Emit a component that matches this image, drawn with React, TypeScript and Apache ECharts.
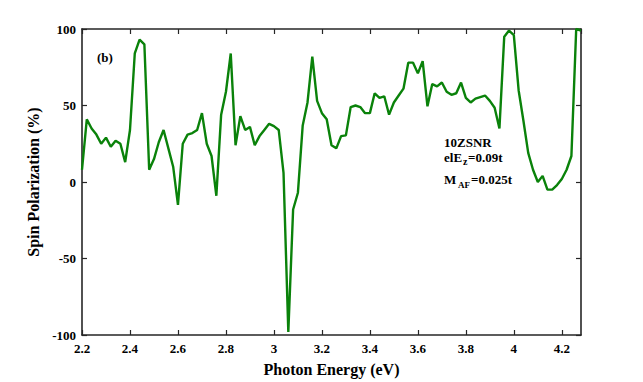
import React, { useEffect, useRef } from "react";
import * as echarts from "echarts";

const energies = [
  2.2, 2.22, 2.24, 2.26, 2.28, 2.3, 2.32, 2.34, 2.36, 2.38,
  2.4, 2.42, 2.44, 2.46, 2.48, 2.5, 2.52, 2.54, 2.56, 2.58,
  2.6, 2.62, 2.64, 2.66, 2.68, 2.7, 2.72, 2.74, 2.76, 2.78,
  2.8, 2.82, 2.84, 2.86, 2.88, 2.9, 2.92, 2.94, 2.96, 2.98,
  3.0, 3.02, 3.04, 3.06, 3.08, 3.1, 3.12, 3.14, 3.16, 3.18,
  3.2, 3.22, 3.24, 3.26, 3.28, 3.3, 3.32, 3.34, 3.36, 3.38,
  3.4, 3.42, 3.44, 3.46, 3.48, 3.5, 3.52, 3.54, 3.56, 3.58,
  3.6, 3.62, 3.64, 3.66, 3.68, 3.7, 3.72, 3.74, 3.76, 3.78,
  3.8, 3.82, 3.84, 3.86, 3.88, 3.9, 3.92, 3.94, 3.96, 3.98,
  4.0, 4.02, 4.04, 4.06, 4.08, 4.1, 4.12, 4.14, 4.16, 4.18,
  4.2, 4.22, 4.24, 4.26, 4.28,
];

const polarization = [
  8, 41, 35, 31, 25, 29, 23, 27, 25, 13,
  34, 84, 93, 90, 8, 15, 26, 34, 22, 10,
  -15, 25, 31, 32, 34, 45, 25, 17, -9, 44,
  59, 84, 24, 43, 34, 36, 24, 30, 34, 38,
  36.5, 34, 6, -98, -18, -7, 37, 52, 82, 53,
  45, 41, 24, 22, 30, 30.5, 49, 50, 49, 45,
  45, 58, 55, 56, 44, 52, 56.5, 61, 78, 78,
  71, 79, 49.5, 64, 62.5, 65, 59, 57, 58, 65,
  55, 52, 54.5, 55.5, 56.5, 53, 48.5, 35, 95, 99,
  96, 60, 40, 19, 8, 0, 4, -5, -5, -2,
  2, 8, 17, 100, 99,
];

const xTitle = "Photon Energy (eV)";
const yTitle = "Spin Polarization (%)";

const FONT = "'Liberation Serif', 'DejaVu Serif', serif";
const AXIS_COLOR = "#262626";

export default function App() {
  const ref = useRef<HTMLDivElement>(null);

  useEffect(() => {
    if (!ref.current) return;
    const chart = echarts.init(ref.current, undefined, { renderer: "svg" });
    const data = energies.map((e, i) => [e, polarization[i]]);
    const axisLine = { show: true, onZero: false, lineStyle: { color: AXIS_COLOR, width: 1.6 } };
    const axisTick = { show: true, inside: true, length: 5, lineStyle: { color: AXIS_COLOR, width: 1.2 } };
    const labelStyle = { fontFamily: FONT, fontWeight: "bold" as const, fontSize: 13, color: "#000" };
    const txt = (left: number, top: number, text: string, size = 13) => ({
      type: "text",
      left,
      top,
      style: { text, fontFamily: FONT, fontWeight: "bold", fontSize: size, fill: "#000" },
    });

    chart.setOption({
      animation: false,
      backgroundColor: "#fff",
      grid: { left: 82, right: 62, top: 29, bottom: 46, containLabel: false },
      xAxis: [
        {
          type: "value",
          min: 2.2,
          max: 4.28,
          interval: 0.2,
          position: "bottom",
          axisLine,
          axisTick,
          splitLine: { show: false },
          axisLabel: {
            ...labelStyle,
            margin: 7,
            showMaxLabel: false,
            formatter: (v: number) => String(Math.round(v * 10) / 10),
          },
          name: xTitle,
          nameLocation: "middle",
          nameGap: 26,
          nameTextStyle: { fontFamily: FONT, fontWeight: "bold", fontSize: 16, color: "#000" },
        },
        {
          type: "value",
          min: 2.2,
          max: 4.28,
          interval: 0.2,
          position: "top",
          axisLine,
          axisTick,
          splitLine: { show: false },
          axisLabel: { show: false },
        },
      ],
      yAxis: [
        {
          type: "value",
          min: -100,
          max: 100,
          interval: 50,
          position: "left",
          axisLine,
          axisTick,
          splitLine: { show: false },
          axisLabel: { ...labelStyle, margin: 6 },
          name: yTitle,
          nameLocation: "middle",
          nameGap: 32,
          nameRotate: 90,
          nameTextStyle: { fontFamily: FONT, fontWeight: "bold", fontSize: 16, color: "#000" },
        },
        {
          type: "value",
          min: -100,
          max: 100,
          interval: 50,
          position: "right",
          axisLine,
          axisTick,
          splitLine: { show: false },
          axisLabel: { show: false },
        },
      ],
      series: [
        {
          type: "line",
          data,
          xAxisIndex: 0,
          yAxisIndex: 0,
          showSymbol: false,
          symbol: "none",
          lineStyle: { color: "#0a820a", width: 2.4 },
          clip: true,
        },
      ],
      graphic: [
        txt(97, 51, "(b)"),
        txt(444, 136, "10ZSNR"),
        txt(444, 151, "elE"),
        txt(463, 156, "z", 10),
        txt(468, 151, "=0.09t"),
        txt(444, 173, "M"),
        txt(458, 180, "AF", 9),
        txt(471, 173, "=0.025t"),
      ],
    });
    return () => chart.dispose();
  }, []);

  return (
    <div
      ref={ref}
      style={{ position: "absolute", left: 0, top: 0, width: 643, height: 382, background: "#fff" }}
    />
  );
}
